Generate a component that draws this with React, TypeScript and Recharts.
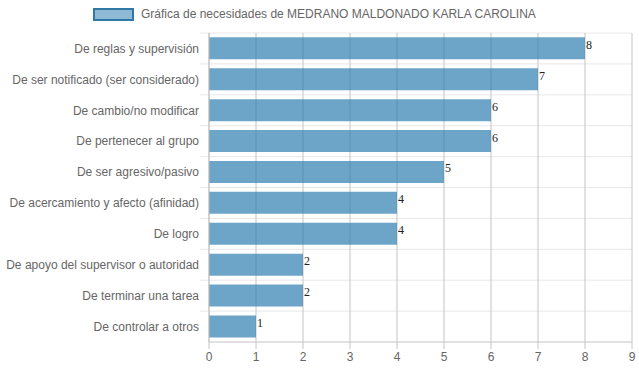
import React from 'react';
import { BarChart, Bar, XAxis, YAxis, CartesianGrid, LabelList } from 'recharts';

const categories = [
  'De reglas y supervisión',
  'De ser notificado (ser considerado)',
  'De cambio/no modificar',
  'De pertenecer al grupo',
  'De ser agresivo/pasivo',
  'De acercamiento y afecto (afinidad)',
  'De logro',
  'De apoyo del supervisor o autoridad',
  'De terminar una tarea',
  'De controlar a otros',
];
const values = [8, 7, 6, 6, 5, 4, 4, 2, 2, 1];
const xTicks = [0, 1, 2, 3, 4, 5, 6, 7, 8, 9];
const seriesName = 'Gráfica de necesidades de MEDRANO MALDONADO KARLA CAROLINA';

const data = categories.map((name, i) => ({ name, value: values[i] }));

const FONT = '"Liberation Sans", Arial, Helvetica, sans-serif';

const YTick = (props: any) => {
  const { x, y, payload } = props;
  return (
    <text x={x} y={y} dy="0.355em" textAnchor="end" fill="#666" fontSize={12} fontFamily={FONT}>
      {payload.value}
    </text>
  );
};

const ValueLabel = (props: any) => {
  const { x, y, width, height, value } = props;
  return (
    <text
      x={Number(x) + Number(width) + 1}
      y={Number(y) + Number(height) / 2 + 0.5}
      fill="#222"
      fontSize={12}
      fontFamily='"Liberation Serif", serif'
    >
      {value}
    </text>
  );
};

export default function App() {
  return (
    <div style={{ position: 'absolute', left: 0, top: 0, width: 639, height: 372, background: '#fff' }}>
      <div
        style={{
          position: 'absolute',
          left: 93,
          top: 7,
          display: 'flex',
          alignItems: 'center',
          fontFamily: FONT,
          fontSize: 12,
          color: '#666',
          whiteSpace: 'nowrap',
          zIndex: 2,
        }}
      >
        <span
          style={{
            display: 'inline-block',
            width: 37,
            height: 9,
            background: 'rgba(49,130,178,0.55)',
            border: '2px solid #2f78a8',
            marginRight: 7,
          }}
        />
        <span>{seriesName}</span>
      </div>
      <BarChart
        width={639}
        height={372}
        data={data}
        layout="vertical"
        margin={{ top: 33, right: 7, bottom: 0, left: 0 }}
        barCategoryGap="14%"
      >
        <CartesianGrid
          horizontalCoordinatesGenerator={({ offset }: any) =>
            Array.from({ length: categories.length }, (_, i) => offset.top + (i * offset.height) / categories.length)
          }
          horizontal={(p: any) => (
            <line key={p.key} x1={p.x1 - 9} x2={p.x2} y1={p.y1} y2={p.y2} stroke="#e8e8e8" strokeWidth={1} />
          )}
          vertical={(p: any) => (
            <line key={p.key} x1={p.x1} x2={p.x2} y1={p.y1} y2={p.y2} stroke="#c4c4c4" strokeWidth={1} />
          )}
        />
        <XAxis
          type="number"
          domain={[0, 9]}
          ticks={xTicks}
          interval={0}
          height={30}
          axisLine={{ stroke: '#c4c4c4' }}
          tickLine={{ stroke: '#c4c4c4' }}
          tickSize={7}
          tickMargin={3}
          tick={{ fill: '#666', fontSize: 12, fontFamily: FONT }}
        />
        <YAxis
          type="category"
          dataKey="name"
          width={209}
          interval={0}
          axisLine={{ stroke: '#c4c4c4' }}
          tickLine={false}
          tickSize={8}
          tickMargin={2}
          tick={<YTick />}
        />
        <Bar dataKey="value" fill="#2f7fb0" fillOpacity={0.7} isAnimationActive={false}>
          <LabelList dataKey="value" content={<ValueLabel />} />
        </Bar>
      </BarChart>
    </div>
  );
}
